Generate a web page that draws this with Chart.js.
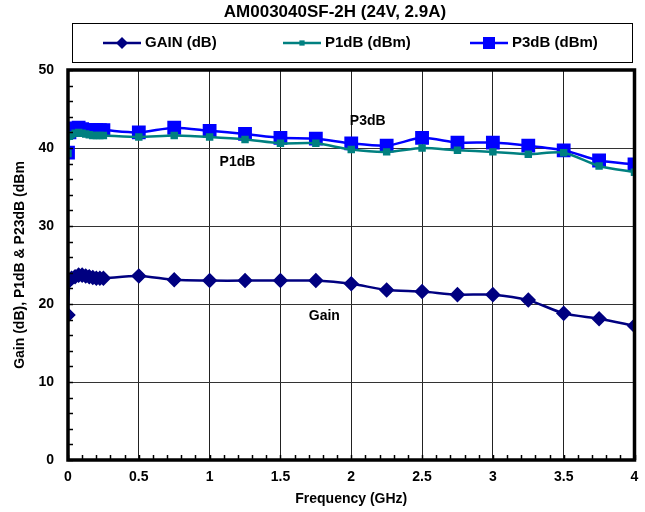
<!DOCTYPE html>
<html>
<head>
<meta charset="utf-8">
<script src="https://cdn.jsdelivr.net/npm/chart.js@4/dist/chart.umd.min.js"></script>
<style>
  body { margin: 0; background: #fff; }
  #wrap { width: 645px; height: 512px; }
</style>
</head>
<body>
<div id="wrap"><canvas id="myChart" width="645" height="512"></canvas></div>
<script>
const ctx = document.getElementById('myChart');

// frequency points (GHz)
var freqs = [0, 0.01, 0.025, 0.05, 0.075, 0.1, 0.125, 0.15, 0.175, 0.2, 0.225, 0.25,
             0.5, 0.75, 1, 1.25, 1.5, 1.75, 2, 2.25, 2.5, 2.75, 3, 3.25, 3.5, 3.75, 4];
var gain = [18.6, 23.0, 23.3, 23.5, 23.7, 23.7, 23.6, 23.5, 23.4, 23.3, 23.3, 23.3,
            23.6, 23.1, 23.0, 23.0, 23.0, 23.0, 22.6, 21.8, 21.6, 21.2, 21.2, 20.5, 18.8, 18.1, 17.2];
var p1db = [39.3, 41.5, 41.7, 41.9, 42.0, 41.9, 41.8, 41.7, 41.6, 41.6, 41.6, 41.6,
            41.4, 41.6, 41.4, 41.1, 40.6, 40.6, 39.8, 39.5, 40.0, 39.7, 39.5, 39.2, 39.4, 37.7, 36.9];
var p3db = [39.4, 42.0, 42.3, 42.5, 42.6, 42.4, 42.3, 42.3, 42.3, 42.3, 42.3, 42.3,
            42.0, 42.6, 42.2, 41.8, 41.3, 41.2, 40.6, 40.3, 41.3, 40.7, 40.7, 40.3, 39.7, 38.4, 37.9];
var seriesNames = ['GAIN (dB)', 'P1dB (dBm)', 'P3dB (dBm)'];
var titulo = 'AM003040SF-2H (24V, 2.9A)';
var notas = [
  { text: 'P3dB', x: 1.99, y: 43.5 },
  { text: 'P1dB', x: 1.07, y: 38.2 },
  { text: 'Gain', x: 1.7, y: 18.5 }
];

function pts(ys) {
  return freqs.map((f, i) => ({ x: f, y: ys[i] }));
}

const fam = '"Liberation Sans", Arial, sans-serif';

const extras = {
  id: 'extras',
  afterDraw(chart) {
    const c = chart.ctx;
    const a = chart.chartArea;
    const xs = chart.scales.x, ys = chart.scales.y;
    c.save();
    // minor ticks
    c.strokeStyle = '#000';
    c.lineWidth = 1.5;
    for (let v = 0; v <= 50; v += 2) {
      const py = Math.round(ys.getPixelForValue(v)) + 0.5;
      c.beginPath(); c.moveTo(a.left, py); c.lineTo(a.left + 5, py); c.stroke();
    }
    for (let v = 0; v <= 40; v++) {
      const px = Math.round(xs.getPixelForValue(v / 10)) + 0.5;
      c.beginPath(); c.moveTo(px, a.bottom); c.lineTo(px, a.bottom - 5); c.stroke();
    }
    // frame
    c.lineWidth = 3.5;
    c.strokeRect(a.left, a.top, a.right - a.left, a.bottom - a.top);
    // title
    c.fillStyle = '#000';
    c.font = 'bold 17px ' + fam;
    c.textAlign = 'center';
    c.textBaseline = 'middle';
    c.fillText(titulo, 335, 12);
    // legend box
    c.lineWidth = 1;
    c.strokeStyle = '#000';
    c.strokeRect(72.5, 23.5, 560, 39);
    const itemX = [103, 283, 470];
    c.font = 'bold 15px ' + fam;
    c.textAlign = 'left';
    chart.data.datasets.forEach((ds, i) => {
      const lx = itemX[i], ly = 43;
      c.strokeStyle = ds.borderColor;
      c.lineWidth = 2.5;
      c.beginPath(); c.moveTo(lx, ly); c.lineTo(lx + 38, ly); c.stroke();
      c.fillStyle = ds.pointBackgroundColor;
      const r = ds.pointRadius;
      if (ds.pointStyle === 'rectRot') {
        c.beginPath();
        c.moveTo(lx + 19, ly - r); c.lineTo(lx + 19 + r, ly);
        c.lineTo(lx + 19, ly + r); c.lineTo(lx + 19 - r, ly); c.closePath(); c.fill();
      } else {
        c.fillRect(lx + 19 - r * 0.75, ly - r * 0.75, r * 1.5, r * 1.5);
      }
      c.fillStyle = '#000';
      c.fillText(ds.label, lx + 42, ly);
    });
    // annotations
    c.font = 'bold 14px ' + fam;
    c.textAlign = 'left';
    notas.forEach(n => {
      c.fillText(n.text, xs.getPixelForValue(n.x), ys.getPixelForValue(n.y));
    });
    c.restore();
  }
};

new Chart(ctx, {
  type: 'line',
  data: {
    datasets: [{
      label: seriesNames[0],
      data: pts(gain),
      borderColor: '#000080',
      backgroundColor: '#000080',
      pointBackgroundColor: '#000080',
      pointBorderColor: '#000080',
      pointStyle: 'rectRot',
      pointRadius: 6,
      borderWidth: 2.5,
      tension: 0.25
    }, {
      label: seriesNames[1],
      data: pts(p1db),
      borderColor: '#008080',
      backgroundColor: '#008080',
      pointBackgroundColor: '#008080',
      pointBorderColor: '#008080',
      pointStyle: 'rect',
      pointRadius: 3.5,
      borderWidth: 2.5,
      tension: 0.25
    }, {
      label: seriesNames[2],
      data: pts(p3db),
      borderColor: '#0000FF',
      backgroundColor: '#0000FF',
      pointBackgroundColor: '#0000FF',
      pointBorderColor: '#0000FF',
      pointStyle: 'rect',
      pointRadius: 8,
      borderWidth: 2.5,
      tension: 0.25
    }]
  },
  options: {
    responsive: false,
    animation: false,
    layout: { padding: { top: 70, right: 0, left: 0, bottom: 0 } },
    plugins: {
      legend: { display: false },
      title: { display: false },
      tooltip: { enabled: false }
    },
    scales: {
      x: {
        type: 'linear',
        min: 0, max: 4,
        afterFit(s) { s.height = 52; s.paddingRight = 7; },
        ticks: {
          stepSize: 0.5,
          color: '#000',
          font: { family: fam, size: 14, weight: 'bold' },
          padding: 9,
          maxRotation: 0,
          callback: (v) => String(v)
        },
        grid: { color: '#222', lineWidth: 1, drawTicks: false },
        border: { display: false },
        title: {
          display: true,
          text: 'Frequency (GHz)',
          color: '#000',
          font: { family: fam, size: 14, weight: 'bold' },
          padding: { top: 0 }
        }
      },
      y: {
        min: 0, max: 50,
        afterFit(s) { s.width = 68; },
        ticks: {
          stepSize: 10,
          color: '#000',
          font: { family: fam, size: 14, weight: 'bold' },
          padding: 14
        },
        grid: { color: '#333', lineWidth: 1, drawTicks: false },
        border: { display: false },
        title: {
          display: true,
          text: 'Gain (dB), P1dB & P23dB (dBm',
          color: '#000',
          font: { family: fam, size: 14, weight: 'bold' },
          padding: { top: 12, bottom: 0 }
        }
      }
    }
  },
  plugins: [extras]
});
</script>
</body>
</html>
